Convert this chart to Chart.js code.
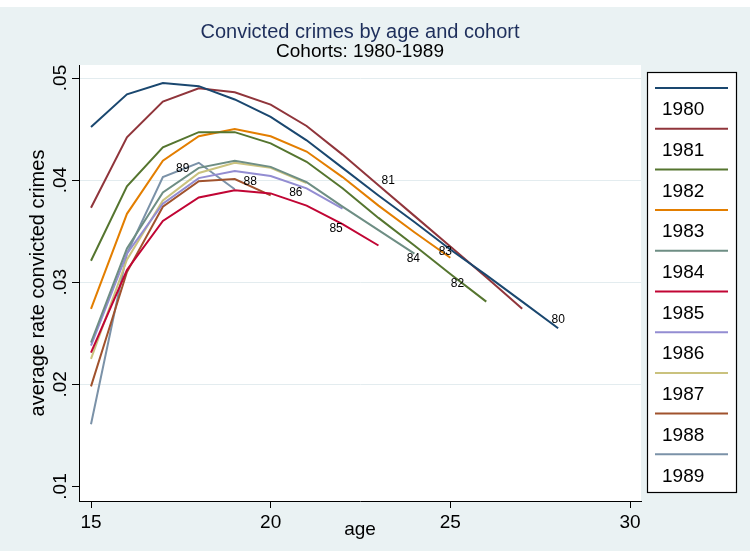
<!DOCTYPE html>
<html><head><meta charset="utf-8">
<script src="https://cdn.jsdelivr.net/npm/chart.js@4.4.1/dist/chart.umd.min.js"></script>
<style>html,body{margin:0;padding:0;background:#fff;}#wrap{width:750px;height:551px;position:relative;}canvas{display:block}</style>
</head><body><div id="wrap"><canvas id="c" width="750" height="551"></canvas></div>
<script>
const ages = [15,16,17,18,19,20,21,22,23,24,25,26,27,28];
const cohorts = ['1980','1981','1982','1983','1984','1985','1986','1987','1988','1989'];
const rate1980 = [.0452,.0484,.0495,.0492,.0479,.0462,.0439,.0412,.0385,.0359,.0332,.0307,.0281,.0255];
const rate1981 = [.0373,.0442,.0477,.0490,.0486,.0474,.0453,.0425,.0395,.0365,.0335,.0305,.0274];
const rate1982 = [.0321,.0394,.0432,.0447,.0447,.0436,.0418,.0392,.0363,.0336,.0308,.0281];
const rate1983 = [.0274,.0367,.0419,.0443,.0450,.0443,.0428,.0403,.0375,.0349,.0324];
const rate1984 = [.0241,.0333,.0388,.0412,.0419,.0413,.0398,.0374,.0351,.0328];
const rate1985 = [.0231,.0312,.0360,.0383,.0390,.0387,.0375,.0357,.0336];
const rate1986 = [.0238,.0328,.0377,.0402,.0409,.0404,.0392,.0372];
const rate1987 = [.0225,.0322,.0380,.0407,.0417,.0412,.0397];
const rate1988 = [.0198,.0310,.0374,.0399,.0401,.0385];
const rate1989 = [.0161,.0328,.0403,.0417,.0391];
const xTicks = [15,20,25,30];
const yTicks = [.01,.02,.03,.04,.05];
const yTickLabels = ['.01','.02','.03','.04','.05'];
const lineLabels = ['80','81','82','83','84','85','86','88','89'];
const lineLabelAge = [28.0,23.27,25.2,24.86,23.97,21.82,20.7,19.43,17.55];
const lineLabelRate = [.0263,.0399,.0299,.0330,.0323,.0352,.0388,.0398,.0411];

const series = [rate1980,rate1981,rate1982,rate1983,rate1984,rate1985,rate1986,rate1987,rate1988,rate1989];
const colors = ['#1a476f','#90353b','#55752f','#e37e00','#6e8e84','#c10534','#938dd2','#cac27e','#a0522d','#7b92a8'];
const FONT = "'Liberation Sans', Arial, Helvetica, sans-serif";
Chart.defaults.font.family = FONT;

const bgPlugin = {
  id:'bg',
  beforeDraw(chart){
    const ctx = chart.ctx, a = chart.chartArea;
    ctx.save();
    ctx.fillStyle = '#ffffff'; ctx.fillRect(0,0,chart.width,chart.height);
    ctx.fillStyle = '#eaf2f3'; ctx.fillRect(0,7,chart.width,chart.height-7);
    ctx.fillStyle = '#ffffff'; ctx.fillRect(a.left,a.top,a.right-a.left,a.bottom-a.top);
    ctx.restore();
  }
};
const labelPlugin = {
  id:'lineLabels',
  afterDatasetsDraw(chart){
    const ctx = chart.ctx, xs = chart.scales.x, ys = chart.scales.y;
    ctx.save();
    ctx.font = '12px ' + FONT; ctx.fillStyle = '#000';
    ctx.textAlign = 'center'; ctx.textBaseline = 'middle';
    lineLabels.forEach((t,i)=>{
      ctx.fillText(t, xs.getPixelForValue(lineLabelAge[i]), ys.getPixelForValue(lineLabelRate[i]));
    });
    ctx.restore();
  }
};
const legendPlugin = {
  id:'stataLegend',
  afterDraw(chart){
    const ctx = chart.ctx;
    const bx = 647, by = 72, bw = 89, bh = 420, step = 40.7;
    ctx.save();
    ctx.fillStyle = '#fff'; ctx.fillRect(bx,by,bw,bh);
    ctx.strokeStyle = '#000'; ctx.lineWidth = 1.2; ctx.strokeRect(bx+0.5,by+0.5,bw,bh);
    ctx.font = '19px ' + FONT; ctx.textAlign = 'left'; ctx.textBaseline = 'middle';
    chart.data.datasets.forEach((ds,i)=>{
      const ly = 88 + i*step;
      ctx.strokeStyle = ds.borderColor; ctx.lineWidth = 2;
      ctx.beginPath(); ctx.moveTo(655, ly); ctx.lineTo(728, ly); ctx.stroke();
      ctx.fillStyle = '#000';
      ctx.fillText(ds.label, 662, ly + 22);
    });
    ctx.restore();
  }
};

new Chart(document.getElementById('c'), {
  type:'line',
  data:{
    datasets: cohorts.map((c,k)=>({
      label:c,
      data: series[k].map((v,i)=>({x:ages[i], y:v})),
      borderColor: colors[k], backgroundColor: colors[k],
      borderWidth:2, pointRadius:0, tension:0, fill:false
    }))
  },
  options:{
    responsive:false, animation:false, devicePixelRatio:1,
    layout:{padding:{left:0,right:109,top:0,bottom:0}},
    plugins:{
      legend:{display:false}, tooltip:{enabled:false},
      title:{display:true, text:'Convicted crimes by age and cohort', color:'#1e2f5c', fullSize:false,
        font:{size:20, weight:'normal', lineHeight:1}, padding:{top:22,bottom:0}},
      subtitle:{display:true, text:'Cohorts: 1980-1989', color:'#000', fullSize:false,
        font:{size:19, weight:'normal', lineHeight:1}, padding:{top:0,bottom:4}}
    },
    scales:{
      x:{type:'linear', min:14.666, max:30.306,
        afterBuildTicks:s=>{ s.ticks = xTicks.map(v=>({value:v})); },
        afterFit:s=>{ s.height = 50; },
        grid:{drawOnChartArea:false, drawTicks:true, tickLength:7, tickColor:'#000', tickWidth:1},
        border:{display:true, color:'#000', width:1},
        ticks:{padding:3, color:'#000', font:{size:19}, maxRotation:0, minRotation:0, autoSkip:false},
        title:{display:true, text:'age', color:'#000', font:{size:19}, padding:{top:0,bottom:10}}
      },
      y:{type:'linear', min:.00858, max:.051273,
        afterBuildTicks:s=>{ s.ticks = yTicks.map(v=>({value:v})); },
        afterFit:s=>{ s.width = 79; },
        grid:{drawOnChartArea:true, drawTicks:true, tickLength:7, tickColor:'#000', tickWidth:1,
          color:ctx=> (ctx.tick && Math.abs(ctx.tick.value-.01)<1e-9) ? 'rgba(0,0,0,0)' : '#e3ecef', lineWidth:1},
        border:{display:true, color:'#000', width:1},
        ticks:{callback:(v,i)=>yTickLabels[i], minRotation:90, maxRotation:90, crossAlign:'center', padding:-2,
          color:'#000', font:{size:19}, autoSkip:false},
        title:{display:true, text:'average rate convicted crimes', color:'#000', font:{size:20}, padding:{top:26,bottom:0}}
      }
    }
  },
  plugins:[bgPlugin, labelPlugin, legendPlugin]
});
</script></body></html>
